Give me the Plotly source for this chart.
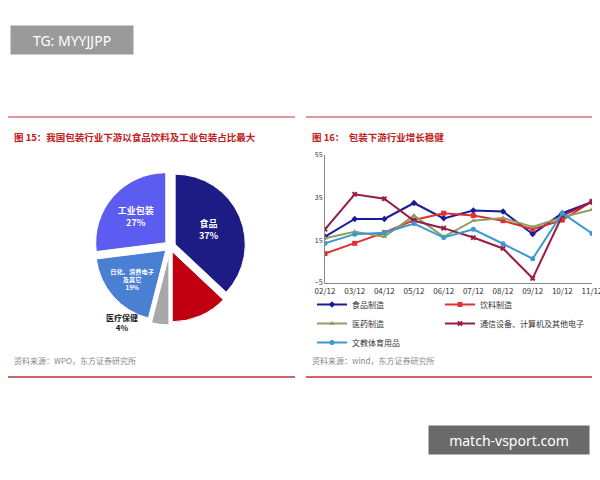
import plotly.graph_objects as go

pie_labels = ['食品', '饮料', '医疗保健', '日化、消费电子<br>及其它', '工业包装']
pie_values = [37, 13, 4, 19, 27]
pie_text = ['<b>食品<br>37%</b>', '', '', '<b>日化、消费电子<br>及其它<br>19%</b>', '<b>工业包装<br>27%</b>']
pie_colors = ['#1c1c84', '#c00010', '#a8a8a8', '#4a80d4', '#5c5cf0']

months = ['02/12', '03/12', '04/12', '05/12', '06/12', '07/12', '08/12', '09/12', '10/12', '11/12']
food = [16.7, 25, 25, 32.5, 25.3, 29, 28.5, 18, 27.7, 33]
drink = [8.8, 13.6, 18.6, 24.5, 27.7, 26.6, 24.2, 20.2, 24.5, 33.3]
pharma = [16, 19, 16.7, 26.6, 16.6, 24.2, 25.5, 21.3, 25.8, 29.3]
telecom = [20.2, 36.6, 34.5, 24.2, 20.7, 16.3, 11.2, -2.8, 26.6, 33]
stationery = [13.6, 17.9, 18.6, 22.9, 16.3, 20.2, 13.4, 6.4, 27.7, 18.2]

# name, values, colour, marker, legend column
series = [
    ('食品制造', food, '#1a1a9a', 'diamond', 'legend'),
    ('饮料制造', drink, '#e03030', 'square', 'legend2'),
    ('医药制造', pharma, '#8aa060', 'triangle-up', 'legend'),
    ('通信设备、计算机及其他电子', telecom, '#9a1a4a', 'x', 'legend2'),
    ('文教体育用品', stationery, '#3a9ad0', 'circle', 'legend'),
]

W, H = 600, 480
def px(x): return x / W
def py(y): return 1 - y / H

fig = go.Figure()

fig.add_trace(go.Pie(
    labels=pie_labels, values=pie_values, text=pie_text, textinfo='text',
    textposition='inside', insidetextorientation='horizontal',
    marker=dict(colors=pie_colors, line=dict(color='white', width=1)),
    sort=False, direction='clockwise', rotation=0,
    pull=[0.08, 0.08, 0.12, 0.08, 0.08],
    textfont=dict(color='white', size=9),
    domain=dict(x=[px(55), px(285)], y=[py(325), py(168)]),
    showlegend=False, hole=0,
))

for name, vals, color, sym, lg in series:
    fig.add_trace(go.Scatter(
        x=months, y=vals, name=name, mode='lines+markers',
        line=dict(color=color, width=2),
        marker=dict(symbol=sym, size=5, color=color),
        xaxis='x', yaxis='y', legend=lg,
    ))

leg_style = dict(font=dict(size=8), tracegroupgap=0, bgcolor='rgba(0,0,0,0)',
                 xanchor='left', yanchor='top', itemwidth=30)
fig.update_layout(
    autosize=True, margin=dict(l=0, r=0, t=0, b=0, autoexpand=False),
    paper_bgcolor='white', plot_bgcolor='white',
    font=dict(family='Noto Sans CJK SC', size=8, color='#333'),
    xaxis=dict(domain=[px(325), px(592)], range=[0, 9], type='category',
               showline=True, linecolor='#888', showgrid=False, ticks='',
               tickfont=dict(size=8), automargin=False),
    yaxis=dict(domain=[py(283), py(155)], range=[-5, 55], tickvals=[-5, 15, 35, 55],
               showline=True, linecolor='#888', showgrid=False, zeroline=False,
               tickfont=dict(size=7), anchor='x', automargin=False),
    legend=dict(x=px(312), y=py(290), **leg_style),
    legend2=dict(x=px(440), y=py(290), **leg_style),
)

# titles, rules and sources
for x0, x1 in [(8, 295), (306, 592)]:
    fig.add_shape(type='line', xref='paper', yref='paper', x0=px(x0), x1=px(x1), y0=py(117), y1=py(117),
                  line=dict(color='#c03030', width=1))
    fig.add_shape(type='line', xref='paper', yref='paper', x0=px(x0), x1=px(x1), y0=py(377), y1=py(377),
                  line=dict(color='#c03030', width=1.5))
fig.add_annotation(xref='paper', yref='paper', x=px(12), y=py(128), xanchor='left', showarrow=False,
                   text='<b>图 15：我国包装行业下游以食品饮料及工业包装占比最大</b>',
                   font=dict(size=9.5, color='#c02020'))
fig.add_annotation(xref='paper', yref='paper', x=px(310), y=py(128), xanchor='left', showarrow=False,
                   text='<b>图 16：  包装下游行业增长稳健</b>', font=dict(size=9.5, color='#c02020'))
fig.add_annotation(xref='paper', yref='paper', x=px(12), y=py(368), xanchor='left', showarrow=False,
                   text='资料来源：WPO，东方证券研究所', font=dict(size=8, color='#888'))
fig.add_annotation(xref='paper', yref='paper', x=px(310), y=py(368), xanchor='left', showarrow=False,
                   text='资料来源：wind，东方证券研究所', font=dict(size=8, color='#888'))
fig.add_annotation(xref='paper', yref='paper', x=px(122), y=py(335), xanchor='center', showarrow=False,
                   text='<b>医疗保健</b><br><b>4%</b>', font=dict(size=8, color='#222'))

# watermark boxes
fig.add_annotation(xref='paper', yref='paper', x=px(72), y=py(25), xanchor='center', showarrow=False,
                   text='TG: MYYJJPP', font=dict(size=14, color='white', family='Noto Sans'),
                   bgcolor='#9a9a9a', width=120, height=26)
fig.add_annotation(xref='paper', yref='paper', x=px(509), y=py(455), xanchor='center', showarrow=False,
                   text='match-vsport.com', font=dict(size=14, color='white', family='Noto Sans'),
                   bgcolor='#6a6a6a', width=158, height=26)

fig.write_html(
    'out.html',
    config={'displayModeBar': False},
    default_width='100vw', default_height='100vh',
    post_script="document.body.style.margin='0';document.body.style.overflow='hidden';"
                "Plotly.Plots.resize(document.getElementById('{plot_id}'));",
)
